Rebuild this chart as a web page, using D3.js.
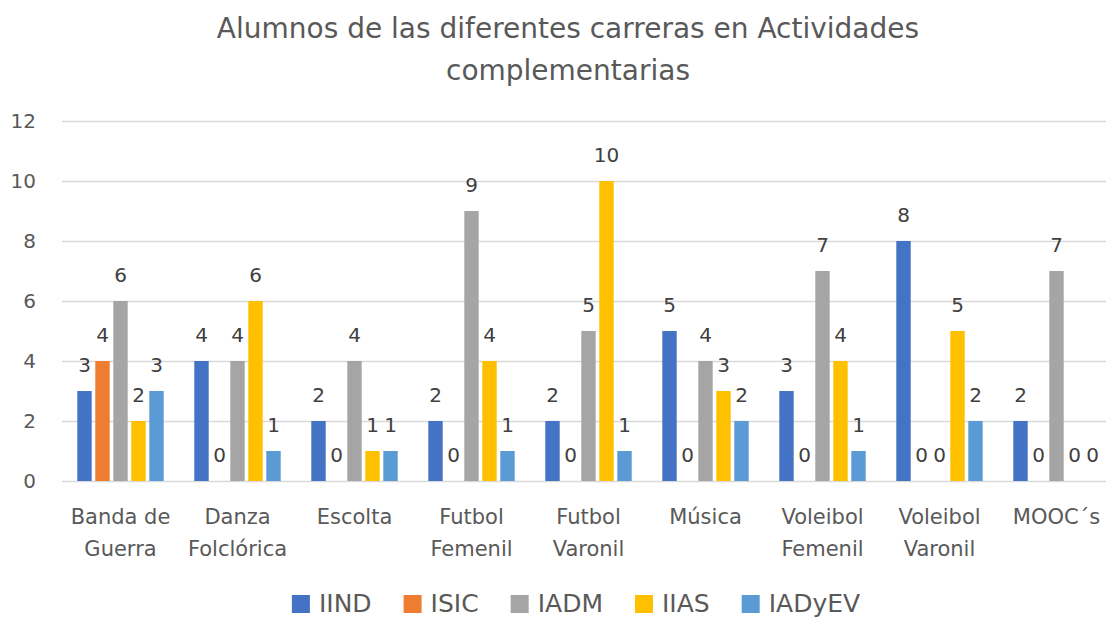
<!DOCTYPE html>
<html>
<head>
<meta charset="utf-8">
<script src="https://cdn.jsdelivr.net/npm/d3@7"></script>
<style>
  body { margin: 0; background: #fff; }
  svg { font-family: "DejaVu Sans", sans-serif; }
</style>
</head>
<body>
<main></main>
<script>
// categories (two lines each) and one value array per career
let categories = ['Banda de Guerra', 'Danza Folclórica', 'Escolta', 'Futbol Femenil', 'Futbol Varonil',
  'Música', 'Voleibol Femenil', 'Voleibol Varonil', 'MOOC´s'];
let categoryLines = [['Banda de', 'Guerra'], ['Danza', 'Folclórica'], ['Escolta'], ['Futbol', 'Femenil'],
  ['Futbol', 'Varonil'], ['Música'], ['Voleibol', 'Femenil'], ['Voleibol', 'Varonil'], ['MOOC´s']];

let series = ['IIND', 'ISIC', 'IADM', 'IIAS', 'IADyEV'];
let iind   = [3, 4, 2, 2, 2, 5, 3, 8, 2];
let isic   = [4, 0, 0, 0, 0, 0, 0, 0, 0];
let iadm   = [6, 4, 4, 9, 5, 4, 7, 0, 7];
let iias   = [2, 6, 1, 4, 10, 3, 4, 5, 0];
let iadyev = [3, 1, 1, 1, 1, 2, 1, 2, 0];
let yTicks = [0, 2, 4, 6, 8, 10, 12];
let titleLines = ['Alumnos de las diferentes carreras en Actividades', 'complementarias'];

let colors = ['#4472C4', '#ED7D31', '#A5A5A5', '#FFC000', '#5B9BD5'];
let values = [iind, isic, iadm, iias, iadyev];

let width = 1106;
let height = 620;

let svg = d3.select('main')
  .append('svg')
  .attr('width', width)
  .attr('height', height);

// title
svg.append('g').selectAll('text')
  .data(titleLines)
  .enter().append('text')
  .attr('x', 568)
  .attr('y', (d, i) => 38 + i * 42)
  .attr('text-anchor', 'middle')
  .attr('font-size', 28)
  .attr('fill', '#595959')
  .text(d => d);

let x0 = d3.scaleBand()
  .domain(categories)
  .range([62, 1115]);

let x1 = d3.scaleBand()
  .domain(series)
  .range([0, x0.bandwidth()])
  .paddingInner(0.2)
  .paddingOuter(0.85);

let y = d3.scaleLinear()
  .domain([0, 12])
  .range([481, 121]);

// gridlines + y labels
let yAxis = d3.axisLeft(y)
  .tickValues(yTicks)
  .tickSize(-(width - 62))
  .tickPadding(26);

let gy = svg.append('g')
  .attr('transform', 'translate(62,0)')
  .call(yAxis);
gy.select('.domain').remove();
gy.selectAll('.tick line')
  .attr('stroke', '#d9d9d9')
  .attr('stroke-width', 1.3);
gy.selectAll('.tick text')
  .attr('font-size', 20)
  .attr('fill', '#595959')
  .attr('font-family', '"DejaVu Sans", sans-serif');

// bars
let groups = svg.append('g').selectAll('g')
  .data(categories)
  .enter().append('g')
  .attr('transform', d => 'translate(' + x0(d) + ',0)');

let cells = groups.selectAll('g')
  .data((d, ci) => series.map((s, si) => ({ s: s, v: values[si][ci], c: colors[si] })))
  .enter().append('g');

cells.append('rect')
  .attr('x', d => x1(d.s))
  .attr('y', d => y(d.v))
  .attr('width', x1.bandwidth())
  .attr('height', d => y(0) - y(d.v))
  .attr('fill', d => d.c);

cells.append('text')
  .attr('x', d => x1(d.s) + x1.bandwidth() / 2)
  .attr('y', d => y(d.v) - 19)
  .attr('text-anchor', 'middle')
  .attr('font-size', 20)
  .attr('fill', '#404040')
  .text(d => d.v);

// category labels
let catLabels = svg.append('g').selectAll('text')
  .data(categories)
  .enter().append('text')
  .attr('x', d => x0(d) + x0.bandwidth() / 2)
  .attr('y', 524)
  .attr('text-anchor', 'middle')
  .attr('font-size', 21)
  .attr('fill', '#595959');

catLabels.selectAll('tspan')
  .data((d, i) => categoryLines[i])
  .enter().append('tspan')
  .attr('x', function () { return this.parentNode.getAttribute('x'); })
  .attr('dy', (d, i) => i === 0 ? 0 : 32)
  .text(d => d);

// legend
let legend = svg.append('g');
let items = legend.selectAll('g')
  .data(series)
  .enter().append('g');

items.append('rect')
  .attr('y', 595)
  .attr('width', 18)
  .attr('height', 18)
  .attr('fill', (d, i) => colors[i]);

items.append('text')
  .attr('x', 27)
  .attr('y', 612)
  .attr('font-size', 25)
  .attr('fill', '#595959')
  .text(d => d);

let offsets = [];
let pos = 0;
items.each(function () {
  offsets.push(pos);
  let w = d3.select(this).select('text').node().getComputedTextLength();
  pos += 27 + w + 32;
});
let total = pos - 32;
let start = 576 - total / 2;
items.attr('transform', (d, i) => 'translate(' + (start + offsets[i]) + ',0)');
</script>
</body>
</html>
